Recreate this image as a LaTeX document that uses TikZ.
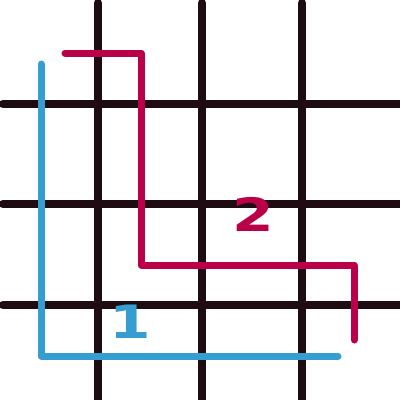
\documentclass[tikz,border=0pt]{standalone}
\usepackage{fontspec}
\setmainfont{DejaVu Sans}
\definecolor{gridc}{HTML}{1E0C12}
\definecolor{bluec}{HTML}{359DD0}
\definecolor{redc}{HTML}{BA0049}
\tikzset{
  gridline/.style={draw=gridc,line width=8.5pt,line cap=round},
  route/.style={line width=7pt,line cap=round,line join=round},
  digit/.style={font=\bfseries\fontsize{46}{46}\selectfont,inner sep=0pt,xscale=1.3}
}
\begin{document}
\begin{tikzpicture}[x=1pt,y=-1pt]
\useasboundingbox (0,0) rectangle (400,400);
\clip (0,0) rectangle (400,400);
\fill[white] (0,0) rectangle (400,400);
% grid
\foreach \gx in {98,202,302} \draw[gridline] (\gx,3) -- (\gx,410);
\foreach \gy in {104,204,305} \draw[gridline] (3,\gy) -- (410,\gy);
% route 1
\coordinate (b1) at (41,64);
\coordinate (b2) at (41,356);
\coordinate (b3) at (338,356);
\draw[route,bluec] (b1) -- (b2) -- (b3);
% route 2
\coordinate (r1) at (65,53);
\coordinate (r2) at (141,53);
\coordinate (r3) at (141,265);
\coordinate (r4) at (354,265);
\coordinate (r5) at (354,340);
\draw[route,redc] (r1) -- (r2) -- (r3) -- (r4) -- (r5);
% labels
\node[digit,text=bluec] (l1) at (130,322) {1};
\node[digit,text=redc] (l2) at (253,214) {2};
\end{tikzpicture}
\end{document}
